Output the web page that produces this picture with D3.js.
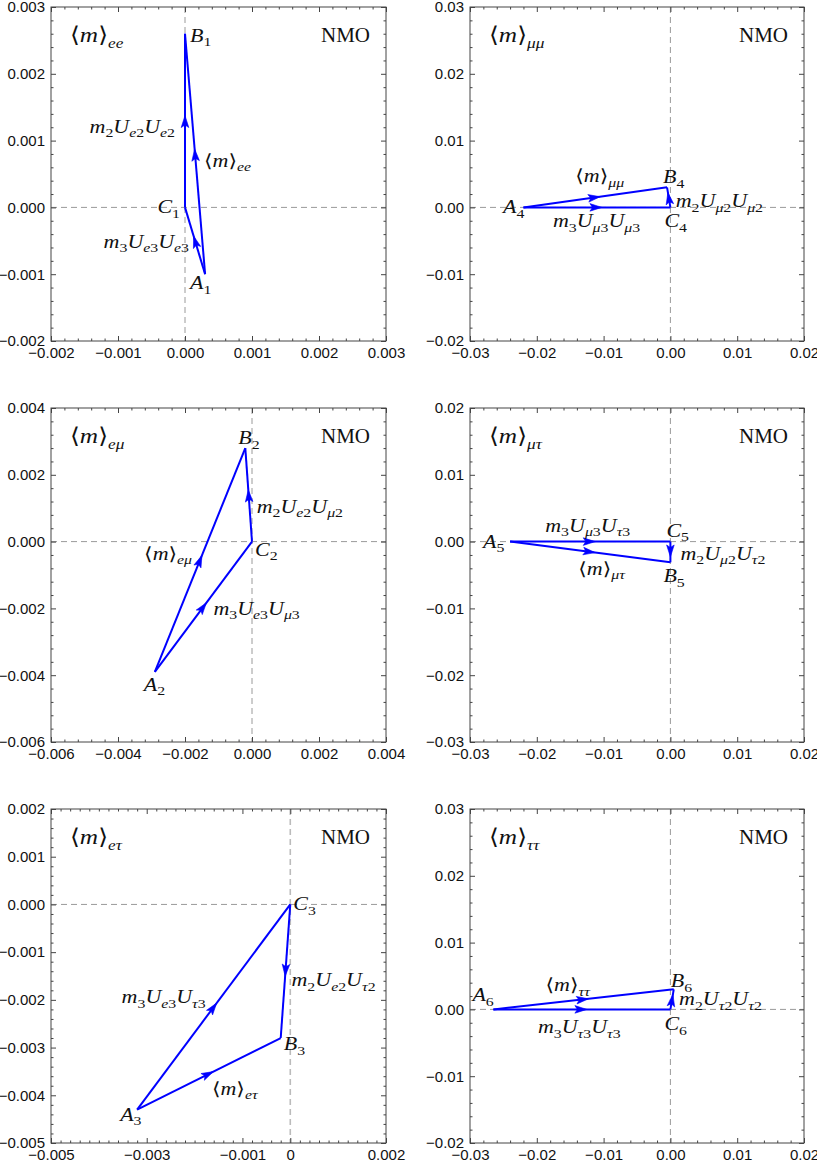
<!DOCTYPE html>
<html><head><meta charset="utf-8">
<script src="https://cdn.jsdelivr.net/npm/d3@7"></script>
<style>body{margin:0;background:#fff}svg{display:block}</style>
</head><body>
<svg id="chart" width="817" height="1161"></svg>
<script>
// ---------------- DATA ----------------
const panelNames = ["ee", "μμ", "eμ", "μτ", "eτ", "ττ"];
const pointIndex = [1, 4, 2, 5, 3, 6];
const xDomains = [[-0.002, 0.003], [-0.03, 0.02], [-0.006, 0.004], [-0.03, 0.02], [-0.005, 0.002], [-0.03, 0.02]];
const yDomains = [[-0.002, 0.003], [-0.02, 0.03], [-0.006, 0.004], [-0.03, 0.02], [-0.005, 0.002], [-0.02, 0.03]];
const xTickValues = [
  [-0.002, -0.001, 0, 0.001, 0.002, 0.003],
  [-0.03, -0.02, -0.01, 0, 0.01, 0.02],
  [-0.006, -0.004, -0.002, 0, 0.002, 0.004],
  [-0.03, -0.02, -0.01, 0, 0.01, 0.02],
  [-0.005, -0.003, -0.001, 0, 0.002],
  [-0.03, -0.02, -0.01, 0, 0.01, 0.02]
];
const xTickLabels = [
  ["−0.002", "−0.001", "0.000", "0.001", "0.002", "0.003"],
  ["−0.03", "−0.02", "−0.01", "0.00", "0.01", "0.02"],
  ["−0.006", "−0.004", "−0.002", "0.000", "0.002", "0.004"],
  ["−0.03", "−0.02", "−0.01", "0.00", "0.01", "0.02"],
  ["−0.005", "−0.003", "−0.001", "0", "0.002"],
  ["−0.03", "−0.02", "−0.01", "0.00", "0.01", "0.02"]
];
const yTickValues = [
  [-0.002, -0.001, 0, 0.001, 0.002, 0.003],
  [-0.02, -0.01, 0, 0.01, 0.02, 0.03],
  [-0.006, -0.004, -0.002, 0, 0.002, 0.004],
  [-0.03, -0.02, -0.01, 0, 0.01, 0.02],
  [-0.005, -0.004, -0.003, -0.002, -0.001, 0, 0.001, 0.002],
  [-0.02, -0.01, 0, 0.01, 0.02, 0.03]
];
const yTickLabels = [
  ["−0.002", "−0.001", "0.000", "0.001", "0.002", "0.003"],
  ["−0.02", "−0.01", "0.00", "0.01", "0.02", "0.03"],
  ["−0.006", "−0.004", "−0.002", "0.000", "0.002", "0.004"],
  ["−0.03", "−0.02", "−0.01", "0.00", "0.01", "0.02"],
  ["−0.005", "−0.004", "−0.003", "−0.002", "−0.001", "0.000", "0.001", "0.002"],
  ["−0.02", "−0.01", "0.00", "0.01", "0.02", "0.03"]
];
const minorSteps = [0.0002, 0.002, 0.0004, 0.002, 0.0002, 0.002];
// triangle vertices (x, y) for each panel
const pointsA = [[0.0003, -0.001], [-0.022, 0], [-0.0029, -0.0039], [-0.024, 0], [-0.0032, -0.0043], [-0.0265, 0]];
const pointsB = [[0, 0.0026], [-0.0005, 0.003], [-0.0002, 0.0028], [0, -0.0031], [-0.0002, -0.0028], [0.0005, 0.003]];
const pointsC = [[0, 0], [0, 0], [0, 0], [0, 0], [0, 0], [0, 0]];
const m3Labels = ["m_3U_{e3}U_{e3}", "m_3U_{μ3}U_{μ3}", "m_3U_{e3}U_{μ3}", "m_3U_{μ3}U_{τ3}", "m_3U_{e3}U_{τ3}", "m_3U_{τ3}U_{τ3}"];
const m2Labels = ["m_2U_{e2}U_{e2}", "m_2U_{μ2}U_{μ2}", "m_2U_{e2}U_{μ2}", "m_2U_{μ2}U_{τ2}", "m_2U_{e2}U_{τ2}", "m_2U_{τ2}U_{τ2}"];
const orderingLabel = "NMO";

// ---------------- LAYOUT (pixels) ----------------
const colLeft = [51, 470], colWidth = [335, 334];
const rowTop = [7, 408, 809], rowHeight = 334;
// label offsets [dx, dy, anchor] relative to vertex / segment midpoint
const labelOffsets = [
  {A: [-15, 15, "start"], B: [5, 8, "start"], C: [-5, 6, "end"], m2: [-10, 12, "end"], m3: [-6, 7, "end"], mm: [9, 13, "start"]},
  {A: [1, 6, "end"], B: [-4, -4, "start"], C: [-6, 20, "start"], m2: [7, 10, "start"], m3: [-44, 20, "start"], mm: [-20, -15, "start"]},
  {A: [-11, 19, "start"], B: [-7, -4, "start"], C: [3, 14, "start"], m2: [8, 18, "start"], m3: [10, 8, "start"], mm: [-8, 0, "end"]},
  {A: [-27, 6, "start"], B: [-7, 20, "start"], C: [-4, -5, "start"], m2: [10, 8, "start"], m3: [-45, -10, "start"], mm: [-12, 23, "start"]},
  {A: [-17, 11, "start"], B: [3, 12, "start"], C: [3, 6, "start"], m2: [6, 15, "start"], m3: [-8, -4, "end"], mm: [3, 21, "start"]},
  {A: [-21, -8, "start"], B: [-3, -2, "start"], C: [-6, 21, "start"], m2: [7, 6, "start"], m3: [-44, 24, "start"], mm: [-38, -8, "start"]}
];
const BLUE = "#0000ff";
const SERIF = "'Liberation Serif','Times New Roman','DejaVu Serif',serif";
const SANS = "'Liberation Sans',Arial,sans-serif";
const inlineStyle = {size: 18, subSize: 13, subDrop: 4.5, sx: 1.22};
const titleStyle = {size: 22, subSize: 15, subDrop: 5.5, sx: 1.15};

// ---------------- helpers ----------------
function parseMath(s) {
  const out = []; let i = 0; const ch = [...s];
  while (i < ch.length) {
    if (ch[i] === "_") {
      i++;
      if (ch[i] === "{") { let j = i + 1; let t = ""; while (ch[j] !== "}") { t += ch[j]; j++; } out.push({t, sub: true}); i = j + 1; }
      else { out.push({t: ch[i], sub: true}); i++; }
    } else { out.push({t: ch[i], sub: false}); i++; }
  }
  return out;
}
function drawMath(parent, s, x, y, anchor, st) {
  const g = parent.append("g").attr("transform", `translate(${x},${y}) scale(${st.sx},1)`);
  const t = g.append("text").attr("text-anchor", anchor).attr("font-family", SERIF)
    .attr("font-size", st.size).attr("fill", "#111");
  let cur = 0;
  parseMath(s).forEach(tok => {
    [...tok.t].forEach(c => {
      const target = tok.sub ? st.subDrop : 0;
      t.append("tspan").text(c).attr("dy", target - cur)
        .attr("font-size", tok.sub ? st.subSize : st.size)
        .attr("font-weight", /[⟨⟩]/.test(c) ? 300 : null)
        .attr("font-style", /[0-9⟨⟩]/.test(c) ? "normal" : "italic");
      cur = target;
    });
  });
}

const svg = d3.select("#chart");

panelNames.forEach((name, p) => {
  const col = p % 2, row = Math.floor(p / 2);
  const L = colLeft[col], T = rowTop[row], W = colWidth[col], H = rowHeight;
  const x = d3.scaleLinear().domain(xDomains[p]).range([L, L + W]);
  const y = d3.scaleLinear().domain(yDomains[p]).range([T + H, T]);
  const g = svg.append("g");

  // dashed zero lines
  g.append("line").attr("x1", x(0)).attr("x2", x(0)).attr("y1", T).attr("y2", T + H)
    .attr("stroke", p === 4 ? "#bbb" : "#9a9a9a").attr("stroke-width", p === 4 ? 1.6 : 1).attr("stroke-dasharray", "6,4");
  g.append("line").attr("x1", L).attr("x2", L + W).attr("y1", y(0)).attr("y2", y(0))
    .attr("stroke", "#9a9a9a").attr("stroke-width", 1).attr("stroke-dasharray", "6,4");

  // minor tick values
  const step = minorSteps[p];
  const minorX = d3.range(Math.round((xDomains[p][1] - xDomains[p][0]) / step) + 1).map(i => xDomains[p][0] + i * step)
    .filter(v => !xTickValues[p].some(m => Math.abs(m - v) < step / 10));
  const minorY = d3.range(Math.round((yDomains[p][1] - yDomains[p][0]) / step) + 1).map(i => yDomains[p][0] + i * step)
    .filter(v => !yTickValues[p].some(m => Math.abs(m - v) < step / 10));

  const style = sel => {
    sel.select(".domain").remove();
    sel.selectAll(".tick line").attr("stroke", "#444");
    sel.selectAll(".tick text").attr("fill", "#111").attr("font-family", SANS).attr("font-size", 15);
  };
  const fx = v => xTickLabels[p][xTickValues[p].indexOf(v)];
  const fy = v => yTickLabels[p][yTickValues[p].indexOf(v)];

  g.append("g").attr("transform", `translate(0,${T + H})`)
    .call(d3.axisBottom(x).tickValues(xTickValues[p]).tickSize(-5).tickPadding(6).tickFormat(fx)).call(style);
  g.append("g").attr("transform", `translate(0,${T + H})`)
    .call(d3.axisBottom(x).tickValues(minorX).tickSize(-2.5).tickFormat("")).call(style);
  g.append("g").attr("transform", `translate(0,${T})`)
    .call(d3.axisTop(x).tickValues(xTickValues[p]).tickSize(-5).tickFormat("")).call(style);
  g.append("g").attr("transform", `translate(0,${T})`)
    .call(d3.axisTop(x).tickValues(minorX).tickSize(-2.5).tickFormat("")).call(style);
  g.append("g").attr("transform", `translate(${L},0)`)
    .call(d3.axisLeft(y).tickValues(yTickValues[p]).tickSize(-5).tickPadding(6).tickFormat(fy)).call(style);
  g.append("g").attr("transform", `translate(${L},0)`)
    .call(d3.axisLeft(y).tickValues(minorY).tickSize(-2.5).tickFormat("")).call(style);
  g.append("g").attr("transform", `translate(${L + W},0)`)
    .call(d3.axisRight(y).tickValues(yTickValues[p]).tickSize(-5).tickFormat("")).call(style);
  g.append("g").attr("transform", `translate(${L + W},0)`)
    .call(d3.axisRight(y).tickValues(minorY).tickSize(-2.5).tickFormat("")).call(style);

  // frame
  g.append("rect").attr("x", L).attr("y", T).attr("width", W).attr("height", H)
    .attr("fill", "none").attr("stroke", "#444").attr("stroke-width", 1);

  // triangle arrows: A->C (m3), C->B (m2), A->B (<m>)
  const A = pointsA[p], B = pointsB[p], C = pointsC[p];
  const segs = [{k: "m3", s: A, e: C}, {k: "m2", s: C, e: B}, {k: "mm", s: A, e: B}];
  const line = d3.line().x(d => x(d[0])).y(d => y(d[1]));
  const mids = {};
  segs.forEach(sg => {
    g.append("path").attr("d", line([sg.s, sg.e])).attr("fill", "none")
      .attr("stroke", BLUE).attr("stroke-width", 2).attr("stroke-linejoin", "round");
    const x1 = x(sg.s[0]), y1 = y(sg.s[1]), x2 = x(sg.e[0]), y2 = y(sg.e[1]);
    const len = Math.hypot(x2 - x1, y2 - y1), ux = (x2 - x1) / len, uy = (y2 - y1) / len;
    const mx = (x1 + x2) / 2, my = (y1 + y2) / 2;
    mids[sg.k] = [mx, my];
    const tx = mx + ux * 5, ty = my + uy * 5, bx = tx - ux * 12, by = ty - uy * 12, nx = -uy * 3.8, ny = ux * 3.8;
    g.append("path").attr("d", `M${tx},${ty}L${bx + nx},${by + ny}L${bx + ux * 2.5},${by + uy * 2.5}L${bx - nx},${by - ny}Z`)
      .attr("fill", BLUE).attr("stroke", BLUE).attr("stroke-width", 0.6);
  });

  // labels
  const off = labelOffsets[p];
  const k = pointIndex[p];
  const vert = {A: [x(A[0]), y(A[1])], B: [x(B[0]), y(B[1])], C: [x(C[0]), y(C[1])]};
  ["A", "B", "C"].forEach(v => {
    const o = off[v];
    drawMath(g, `${v}_${k}`, vert[v][0] + o[0], vert[v][1] + o[1], o[2], inlineStyle);
  });
  drawMath(g, m2Labels[p], mids.m2[0] + off.m2[0], mids.m2[1] + off.m2[1], off.m2[2], inlineStyle);
  drawMath(g, m3Labels[p], mids.m3[0] + off.m3[0], mids.m3[1] + off.m3[1], off.m3[2], inlineStyle);
  drawMath(g, `⟨m⟩_{${name}}`, mids.mm[0] + off.mm[0], mids.mm[1] + off.mm[1], off.mm[2], inlineStyle);

  // corner texts
  drawMath(g, `⟨m⟩_{${name}}`, L + 19, T + 35, "start", titleStyle);
  g.append("text").attr("x", L + W - 16).attr("y", T + 35).attr("text-anchor", "end")
    .attr("font-family", SERIF).attr("font-size", 21).attr("fill", "#111").text(orderingLabel);
});
</script>
</body></html>
